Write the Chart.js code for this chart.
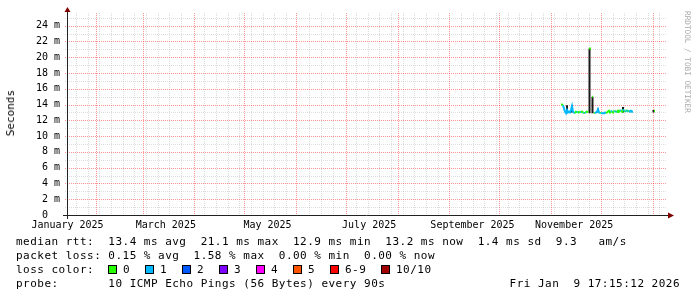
<!DOCTYPE html>
<html><head><meta charset="utf-8">
<script src="https://cdn.jsdelivr.net/npm/chart.js@4.4.1/dist/chart.umd.min.js"></script>
<style>
html,body{margin:0;padding:0;background:#fff;}
#wrap{position:relative;width:697px;height:297px;overflow:hidden;background:#fff;}
canvas{position:absolute;left:0;top:0;}
.t{position:absolute;font-family:"DejaVu Sans Mono",monospace;font-size:11px;letter-spacing:0.48px;line-height:13px;color:#000;white-space:pre;}
.box{position:absolute;width:9px;height:9px;box-sizing:border-box;border:1px solid #000;}
#ytitle{position:absolute;left:5px;top:90px;writing-mode:vertical-rl;transform:rotate(180deg);font-family:"DejaVu Sans Mono",monospace;font-size:11px;line-height:12px;white-space:pre;color:#000;}
#wm{position:absolute;left:683px;top:11px;writing-mode:vertical-rl;font-family:"DejaVu Sans Mono",monospace;font-size:7.7px;line-height:9px;color:#a8a8a8;white-space:pre;}
</style></head><body>
<div id="wrap">
<canvas id="c" width="697" height="297"></canvas>
<div id="ytitle">Seconds</div>
<div id="wm">RRDTOOL / TOBI OETIKER</div>
<div class="t" style="left:16px;top:235.4px">median rtt:  13.4 ms avg  21.1 ms max  12.9 ms min  13.2 ms now  1.4 ms sd  9.3   am/s</div>
<div class="t" style="left:16px;top:249.2px">packet loss: 0.15 % avg  1.58 % max  0.00 % min  0.00 % now</div>
<div class="t" style="left:16px;top:263px">loss color:</div>
<div id="lossrow"></div>
<div class="t" style="left:16px;top:276.7px">probe:       10 ICMP Echo Pings (56 Bytes) every 90s</div>
<div class="t" style="right:17px;top:276.7px">Fri Jan  9 17:15:12 2026</div>
</div>
<script>
// ---- data (x = day of year 2025, 0 = Jan 1; values in ms) ----
const xMinDay = 13.7;   // 360 days ending Fri Jan 9 2026
const xMaxDay = 373.7;
const yMaxMs = 25.6;

const medianDays = [310.1,310.7,311.3,311.9,312.5,313.1,313.7,314.3,314.9,315.5,316.1,316.7,317.3,317.9,318.5,
  319.1,319.7,320.3,320.9,321.5,322.1,322.7,323.3,323.9,324.5,325.1,325.7,326.3,326.9,327.5,328.1,328.7,329.3,
  329.9,330.5,331.1,331.7,332.3,332.9,333.5,334.1,334.7,335.3,335.9,336.5,337.1,337.7,338.3,338.9,339.5,340.1,
  340.7,341.3,341.9,342.5,343.1,343.7,344.3,344.9,345.5,346.1,346.7,347.3,347.9,348.5,349.1,349.7,350.3,350.9,
  351.5,352.1,352.7,353.3,359.0,365.9,366.5];
const medianMs = [14.0,14.0,13.9,13.5,13.1,12.9,13.3,13.0,13.1,13.0,13.3,13.8,13.1,13.0,12.9,
  13.1,13.0,13.1,13.0,13.1,13.0,13.1,13.0,12.9,13.0,13.0,13.1,13.0,21.1,21.1,21.1,15.0,15.0,
  13.0,12.9,13.0,13.1,13.4,13.0,12.9,13.0,12.9,12.9,12.9,13.0,12.9,13.0,13.1,13.2,13.0,13.2,
  13.1,13.0,13.2,13.1,13.2,13.0,13.2,13.1,13.3,13.2,13.1,13.4,13.2,13.1,13.2,13.3,13.1,13.2,
  13.1,13.2,13.1,13.1,null,13.2,13.2];
const medianLoss = [0,0,0,1,1,1,1,1,1,1,1,1,1,1,1,
  0,0,1,0,0,1,0,0,1,0,1,0,0,0,0,0,0,0,
  1,0,1,1,1,1,1,0,1,1,1,1,1,0,0,0,0,0,
  1,0,0,1,0,1,0,0,0,1,0,0,1,0,1,0,1,0,
  1,1,1,1,0,0,0];

const smokeDays = [313.7,316.7,327.2,329.0,332.3,347.3,365.6];
const smokeLowMs = [12.9,13.0,12.9,12.9,13.0,13.0,13.0];
const smokeHighMs = [13.9,13.9,21.1,15.0,13.5,13.7,13.3];

const lossColors = ['#26ff00','#00b8ff','#0059ff','#7e00ff','#ff00ff','#ff5500','#ff0000','#a10000'];
const lossLabels = ['0','1','2','3','4','5','6-9','10/10'];

const monthLabelDays = [14,73,134,195,257,318];
const monthLabels = ['January 2025','March 2025','May 2025','July 2025','September 2025','November 2025'];
const monthStartDays = [31,59,90,120,151,181,212,243,273,304,334,365];
const firstMondayDay = 19;
const yTickValues = [0,2,4,6,8,10,12,14,16,18,20,22,24];

// ---- legend row with loss colours ----
const lossBoxX = [108,145,182,219,256,293,330,381];
const lossRow = document.getElementById('lossrow');
lossLabels.forEach((lab,i)=>{
  const b = document.createElement('div');
  b.className='box'; b.style.left=lossBoxX[i]+'px'; b.style.top='264.5px'; b.style.background=lossColors[i];
  lossRow.appendChild(b);
  const t = document.createElement('div');
  t.className='t'; t.style.left=(lossBoxX[i]+15)+'px'; t.style.top='263px'; t.textContent=lab;
  lossRow.appendChild(t);
});

function lossIdx(n){ if(n<=5) return n; if(n<10) return 6; return 7; }

const medianPoints = medianDays.map((d,i)=>({x:d,y:medianMs[i]}));
const smokePoints = [];
smokeDays.forEach((d,i)=>{ smokePoints.push({x:d,y:smokeLowMs[i]},{x:d,y:smokeHighMs[i]},{x:d,y:null}); });

const MINOR = 'rgba(150,150,150,0.32)';
const MAJOR = 'rgba(255,0,0,0.42)';

const rrdPlugin = {
  id:'rrd',
  beforeDatasetsDraw(chart){
    const {ctx, chartArea:a, scales:{x,y}} = chart;
    ctx.save();
    ctx.lineWidth = 1;
    ctx.setLineDash([1,1]);
    const hl = (v,col)=>{ const py=Math.round(y.getPixelForValue(v))+0.5; ctx.strokeStyle=col; ctx.beginPath(); ctx.moveTo(a.left-2,py); ctx.lineTo(a.right,py); ctx.stroke(); };
    const vl = (v,col)=>{ const px=Math.round(x.getPixelForValue(v))+0.5; ctx.strokeStyle=col; ctx.beginPath(); ctx.moveTo(px,a.top); ctx.lineTo(px,a.bottom+2); ctx.stroke(); };
    for(let v=1; v<yMaxMs; v+=2) hl(v,MINOR);
    for(let d=firstMondayDay; d<xMaxDay; d+=7) {
      if (monthStartDays.some(m=>Math.abs(m-d)<2)) continue;
      vl(d,MINOR);
    }
    yTickValues.forEach(v=>{ if(v>0) hl(v,MAJOR); });
    monthStartDays.forEach(d=>vl(d,MAJOR));
    ctx.restore();
  },
  afterDatasetsDraw(chart){
    const {ctx, chartArea:a} = chart;
    ctx.save();
    ctx.strokeStyle='#212121'; ctx.lineWidth=1;
    const ax = Math.round(a.left)+0.5, ay = Math.round(a.bottom)+0.5;
    ctx.beginPath(); ctx.moveTo(ax, a.bottom+4); ctx.lineTo(ax, a.top-4); ctx.stroke();
    ctx.beginPath(); ctx.moveTo(a.left-4, ay); ctx.lineTo(a.right+3, ay); ctx.stroke();
    ctx.fillStyle='#800000';
    ctx.beginPath(); ctx.moveTo(ax, a.top-6); ctx.lineTo(ax-3, a.top-1); ctx.lineTo(ax+3, a.top-1); ctx.closePath(); ctx.fill();
    ctx.beginPath(); ctx.moveTo(a.right+7, ay); ctx.lineTo(a.right+1, ay-3); ctx.lineTo(a.right+1, ay+3); ctx.closePath(); ctx.fill();
    ctx.restore();
  }
};

new Chart(document.getElementById('c'), {
  type:'line',
  data:{datasets:[
    {label:'median', data:medianPoints, order:0, borderWidth:2, pointRadius:0, spanGaps:false,
     borderColor:lossColors[0],
     segment:{borderColor:(c)=>{
        if(Math.abs(c.p1.parsed.y-c.p0.parsed.y)>1.5) return 'rgba(0,0,0,0)';
        return lossColors[lossIdx(medianLoss[c.p1DataIndex])];
     }}},
    {label:'smoke', data:smokePoints, order:1, borderColor:'#1a1a1a', borderWidth:2, pointRadius:0, spanGaps:false}
  ]},
  options:{
    responsive:false, animation:false, devicePixelRatio:1,
    layout:{padding:{left:0,right:30,top:13,bottom:62}},
    plugins:{legend:{display:false}, tooltip:{enabled:false}},
    scales:{
      x:{type:'linear', min:xMinDay, max:xMaxDay,
        grid:{display:false, drawTicks:false}, border:{display:false},
        ticks:{font:{family:'DejaVu Sans Mono', size:10}, color:'#000', padding:4, autoSkip:false, maxRotation:0,
          callback:(v,i)=>monthLabels[i]},
        afterBuildTicks:(s)=>{ s.ticks = monthLabelDays.map(v=>({value:v})); },
        afterFit:(s)=>{ s.height = 20; }},
      y:{type:'linear', min:0, max:yMaxMs,
        grid:{display:false, drawTicks:false}, border:{display:false},
        ticks:{font:{family:'DejaVu Sans Mono', size:10}, color:'#000', padding:7,
          callback:(v)=> v===0 ? '0  ' : v+' m'},
        afterBuildTicks:(s)=>{ s.ticks = yTickValues.map(v=>({value:v})); },
        afterFit:(s)=>{ s.width = 67; }}
    }
  },
  plugins:[rrdPlugin]
});
</script>
</body></html>
